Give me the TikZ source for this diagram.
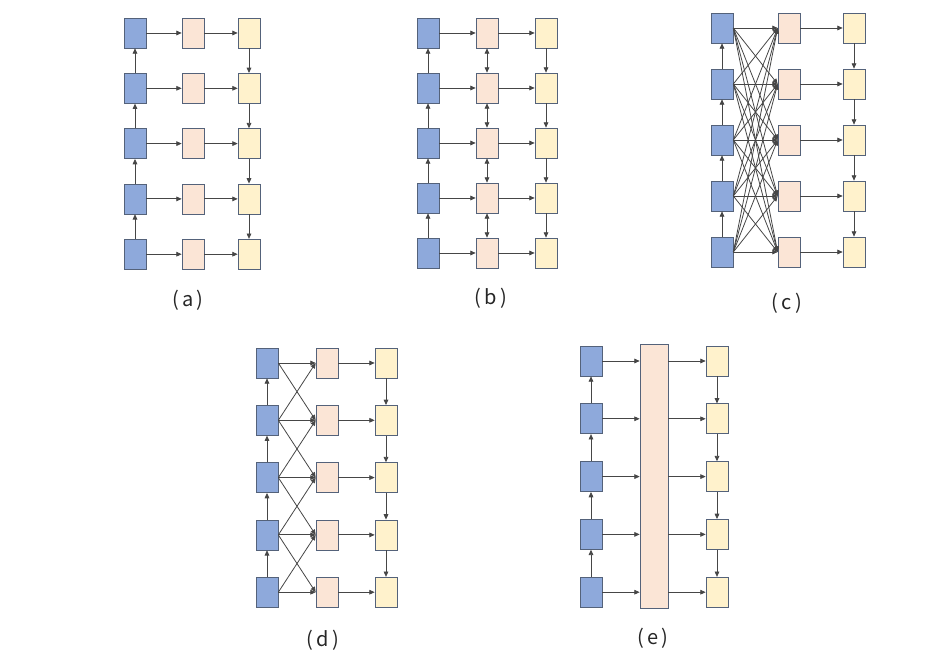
\documentclass[tikz,border=0pt]{standalone}
\usepackage{fontspec}
\usepackage{tikz}
\usetikzlibrary{arrows.meta,positioning}
\newfontfamily\tagfont{Noto Sans CJK SC}
\definecolor{inblue}{RGB}{142,169,219}
\definecolor{midpink}{RGB}{251,229,214}
\definecolor{outyellow}{RGB}{255,242,204}
\definecolor{frame}{RGB}{84,98,122}
\definecolor{linegray}{RGB}{70,70,70}

\tikzset{
  cell/.style={draw=frame, line width=0.5pt, minimum width=16.5pt, minimum height=22.5pt, inner sep=0pt},
  inbox/.style={cell, fill=inblue},
  midbox/.style={cell, fill=midpink},
  outbox/.style={cell, fill=outyellow},
  link/.style={-{Triangle[length=4pt,width=3.5pt]}, draw=linegray, line width=0.6pt},
  both/.style={link, {Triangle[length=4pt,width=3.5pt]}-{Triangle[length=4pt,width=3.5pt]}},
  tag/.style={font=\tagfont\fontsize{15}{17}\selectfont, text=black!85}
}

\begin{document}
\begin{tikzpicture}[x=0.75pt, y=-0.75pt]
  \useasboundingbox (0,0) rectangle (936,666);

  % cells of the five panels
  \foreach \p/\xb/\xm/\xy/\ytop/\dy in {a/135/193/249/33/55.3, b/428/487/546/33/55, c/722/789/854/28/56,
                                         d/267/327/386/363/57.3, e/591/654/717/361/57.8}{
    \foreach \i in {1,...,5}{
      \node[inbox] (\p-b\i) at (\xb, {\ytop+(\i-1)*\dy}) {};
      \node[outbox] (\p-y\i) at (\xy, {\ytop+(\i-1)*\dy}) {};
    }
  }
  \foreach \p/\xm/\ytop/\dy in {a/193/33/55.3, b/487/33/55, c/789/28/56, d/327/363/57.3}{
    \foreach \i in {1,...,5}
      \node[midbox] (\p-m\i) at (\xm, {\ytop+(\i-1)*\dy}) {};
  }
  \node[cell, fill=midpink, minimum width=21pt, minimum height=198pt] (e-m) at (654,476) {};

  % chains
  \foreach \p in {a,b,c,d,e}{
    \foreach \i/\j in {1/2,2/3,3/4,4/5}{
      \draw[link] (\p-b\j) -- (\p-b\i);
      \draw[link] (\p-y\i) -- (\p-y\j);
    }
  }
  \foreach \i/\j in {1/2,2/3,3/4,4/5}
    \draw[both] (b-m\i) -- (b-m\j);

  % inputs to middle cells
  \foreach \p in {a,b}{
    \foreach \i in {1,...,5}{
      \draw[link] (\p-b\i) -- (\p-m\i);
      \draw[link] (\p-m\i) -- (\p-y\i);
    }
  }
  \foreach \i in {1,...,5}{
    \foreach \j in {1,...,5}
      \draw[link] (c-b\i.east) -- (c-m\j.west);
    \draw[link] (c-m\i) -- (c-y\i);
  }
  \foreach \i in {1,...,5}{
    \draw[link] (d-b\i.east) -- (d-m\i.west);
    \draw[link] (d-m\i) -- (d-y\i);
  }
  \foreach \i/\j in {1/2,2/3,3/4,4/5}{
    \draw[link] (d-b\i.east) -- (d-m\j.west);
    \draw[link] (d-b\j.east) -- (d-m\i.west);
  }
  \foreach \i in {1,...,5}{
    \draw[link] (e-b\i.east) -- (e-b\i.east -| e-m.west);
    \draw[link] (e-y\i.west -| e-m.east) -- (e-y\i.west);
  }

  % panel tags
  \node[tag] (ta) at (188,300) {(\,a\,)};
  \node[tag] (tb) at (491,298) {(\,b\,)};
  \node[tag] (tc) at (787,303) {(\,c\,)};
  \node[tag] (td) at (323,640) {(\,d\,)};
  \node[tag] (te) at (653,638) {(\,e\,)};
\end{tikzpicture}
\end{document}
